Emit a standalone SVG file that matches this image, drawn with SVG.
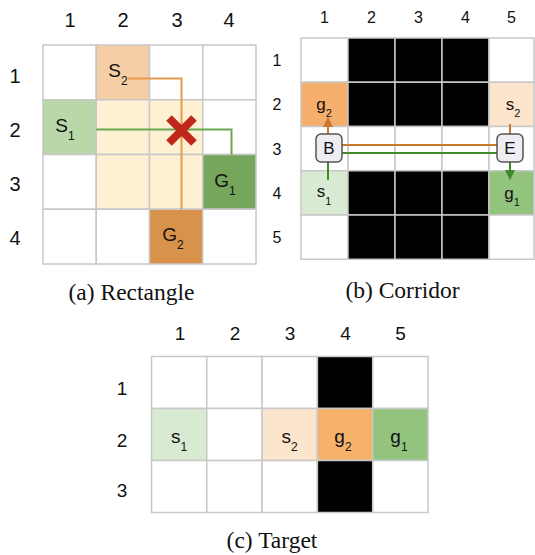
<svg xmlns="http://www.w3.org/2000/svg" width="535" height="555" viewBox="0 0 535 555">
<style>
.cell{stroke:#c8c8c8;stroke-width:1.5}
.lbl{font-family:"Liberation Sans",Arial,sans-serif;fill:#111;text-anchor:middle}
.cap{font-family:"Liberation Serif","Times New Roman",serif;font-size:23.5px;fill:#111;text-anchor:middle}
.w{fill:#ffffff}
.k{fill:#000000}
.box{fill:#eceef1;stroke:#555;stroke-width:1.5}
</style>
<defs>
<marker id="ao" viewBox="0 0 10 10" refX="9" refY="5" markerWidth="5" markerHeight="5" orient="auto" markerUnits="strokeWidth"><path d="M0,0 L10,5 L0,10 z" fill="#c7772e"/></marker>
<marker id="ag" viewBox="0 0 10 10" refX="9" refY="5" markerWidth="5" markerHeight="5" orient="auto" markerUnits="strokeWidth"><path d="M0,0 L10,5 L0,10 z" fill="#3f8a2a"/></marker>
</defs>
<rect width="535" height="555" fill="#ffffff"/>

<!-- Panel (a) -->
<g id="panel-a">
<g id="a-cells">
<rect class="cell w" x="43" y="45" width="53.25" height="54.75"/>
<rect class="cell" fill="#f5cea5" x="96.25" y="45" width="53.25" height="54.75"/>
<rect class="cell w" x="149.5" y="45" width="53.25" height="54.75"/>
<rect class="cell w" x="202.75" y="45" width="53.25" height="54.75"/>
<rect class="cell" fill="#b9d7a9" x="43" y="99.75" width="53.25" height="54.75"/>
<rect class="cell" fill="#fdf0d3" x="96.25" y="99.75" width="53.25" height="54.75"/>
<rect class="cell" fill="#fdf0d3" x="149.5" y="99.75" width="53.25" height="54.75"/>
<rect class="cell w" x="202.75" y="99.75" width="53.25" height="54.75"/>
<rect class="cell w" x="43" y="154.5" width="53.25" height="54.75"/>
<rect class="cell" fill="#fdf0d3" x="96.25" y="154.5" width="53.25" height="54.75"/>
<rect class="cell" fill="#fdf0d3" x="149.5" y="154.5" width="53.25" height="54.75"/>
<rect class="cell" fill="#76a65b" x="202.75" y="154.5" width="53.25" height="54.75"/>
<rect class="cell w" x="43" y="209.25" width="53.25" height="54.75"/>
<rect class="cell w" x="96.25" y="209.25" width="53.25" height="54.75"/>
<rect class="cell" fill="#d9924b" x="149.5" y="209.25" width="53.25" height="54.75"/>
<rect class="cell w" x="202.75" y="209.25" width="53.25" height="54.75"/>
</g>
<g id="a-axis" class="lbl" font-size="20">
<text x="70" y="27">1</text><text x="123" y="27">2</text><text x="177" y="27">3</text><text x="229" y="27">4</text>
<text x="15" y="83">1</text><text x="15" y="137">2</text><text x="15" y="191">3</text><text x="15" y="245">4</text>
</g>
<g id="a-connectors" fill="none" stroke-width="2">
<polyline points="128,78.5 181.5,78.5 181.5,209.25" stroke="#e69a4a"/>
<polyline points="96.25,129.5 231.5,129.5 231.5,154.5" stroke="#6aa84f"/>
</g>
<g id="a-cross" stroke="#c0281c" stroke-width="8">
<line x1="169" y1="118" x2="194" y2="143"/>
<line x1="194" y1="118" x2="169" y2="143"/>
</g>
<g id="a-S2"><text class="lbl" font-size="19" x="118" y="77">S<tspan font-size="12" dy="8">2</tspan></text></g>
<g id="a-S1"><text class="lbl" font-size="19" x="65" y="132">S<tspan font-size="12" dy="8">1</tspan></text></g>
<g id="a-G1"><text class="lbl" font-size="19" x="225" y="187">G<tspan font-size="12" dy="8">1</tspan></text></g>
<g id="a-G2"><text class="lbl" font-size="19" x="173" y="241">G<tspan font-size="12" dy="8">2</tspan></text></g>
<text class="cap" x="131.5" y="300">(a) Rectangle</text>
</g>

<!-- Panel (b) -->
<g id="panel-b">
<g id="b-cells">
<rect class="cell w" x="301" y="38" width="47" height="44.25"/>
<rect class="cell k" x="348" y="38" width="47" height="44.25"/>
<rect class="cell k" x="395" y="38" width="47" height="44.25"/>
<rect class="cell k" x="442" y="38" width="47" height="44.25"/>
<rect class="cell w" x="489" y="38" width="45" height="44.25"/>
<rect class="cell" fill="#f5ae6b" x="301" y="82.25" width="47" height="44.25"/>
<rect class="cell k" x="348" y="82.25" width="47" height="44.25"/>
<rect class="cell k" x="395" y="82.25" width="47" height="44.25"/>
<rect class="cell k" x="442" y="82.25" width="47" height="44.25"/>
<rect class="cell" fill="#fde5cd" x="489" y="82.25" width="45" height="44.25"/>
<rect class="cell w" x="301" y="126.5" width="47" height="44.25"/>
<rect class="cell w" x="348" y="126.5" width="47" height="44.25"/>
<rect class="cell w" x="395" y="126.5" width="47" height="44.25"/>
<rect class="cell w" x="442" y="126.5" width="47" height="44.25"/>
<rect class="cell w" x="489" y="126.5" width="45" height="44.25"/>
<rect class="cell" fill="#d9ead3" x="301" y="170.75" width="47" height="44.25"/>
<rect class="cell k" x="348" y="170.75" width="47" height="44.25"/>
<rect class="cell k" x="395" y="170.75" width="47" height="44.25"/>
<rect class="cell k" x="442" y="170.75" width="47" height="44.25"/>
<rect class="cell" fill="#93c47d" x="489" y="170.75" width="45" height="44.25"/>
<rect class="cell w" x="301" y="215" width="47" height="44.25"/>
<rect class="cell k" x="348" y="215" width="47" height="44.25"/>
<rect class="cell k" x="395" y="215" width="47" height="44.25"/>
<rect class="cell k" x="442" y="215" width="47" height="44.25"/>
<rect class="cell w" x="489" y="215" width="45" height="44.25"/>
</g>
<g id="b-axis" class="lbl" font-size="16">
<text x="324.5" y="23">1</text><text x="371.5" y="23">2</text><text x="418.5" y="23">3</text><text x="465.5" y="23">4</text><text x="511.5" y="23">5</text>
<text x="277" y="66">1</text><text x="277" y="110">2</text><text x="277" y="155">3</text><text x="277" y="199">4</text><text x="277" y="243">5</text>
</g>
<g id="b-connectors" fill="none" stroke-width="2">
<line x1="342" y1="145" x2="497" y2="145" stroke="#c7772e"/>
<line x1="342" y1="153" x2="497" y2="153" stroke="#3f8a2a"/>
<line x1="328" y1="134" x2="328" y2="118" stroke="#c7772e" marker-end="url(#ao)"/>
<line x1="328" y1="180" x2="328" y2="162" stroke="#3f8a2a"/>
<line x1="510" y1="124" x2="510" y2="134" stroke="#c7772e"/>
<line x1="510" y1="162" x2="510" y2="179" stroke="#3f8a2a" marker-end="url(#ag)"/>
</g>
<g id="b-g2"><text class="lbl" font-size="17" x="324" y="110">g<tspan font-size="11" dy="7">2</tspan></text></g>
<g id="b-s2"><text class="lbl" font-size="17" x="513" y="110">s<tspan font-size="11" dy="7">2</tspan></text></g>
<g id="b-s1"><text class="lbl" font-size="17" x="324" y="197">s<tspan font-size="11" dy="8">1</tspan></text></g>
<g id="b-g1"><text class="lbl" font-size="17" x="512" y="199">g<tspan font-size="11" dy="7">1</tspan></text></g>
<g id="b-B"><rect class="box" x="316" y="134" width="26" height="28" rx="5"/><text class="lbl" font-size="17" x="329" y="154">B</text></g>
<g id="b-E"><rect class="box" x="497" y="134" width="26" height="28" rx="5"/><text class="lbl" font-size="17" x="510" y="154">E</text></g>
<text class="cap" x="402.5" y="298">(b) Corridor</text>
</g>

<!-- Panel (c) -->
<g id="panel-c">
<g id="c-cells">
<rect class="cell w" x="151.5" y="356.5" width="55.3" height="52"/>
<rect class="cell w" x="206.8" y="356.5" width="55.3" height="52"/>
<rect class="cell w" x="262.1" y="356.5" width="55.3" height="52"/>
<rect class="cell k" x="317.4" y="356.5" width="55.3" height="52"/>
<rect class="cell w" x="372.7" y="356.5" width="55.3" height="52"/>
<rect class="cell" fill="#d9ead3" x="151.5" y="408.5" width="55.3" height="52"/>
<rect class="cell w" x="206.8" y="408.5" width="55.3" height="52"/>
<rect class="cell" fill="#fce5cd" x="262.1" y="408.5" width="55.3" height="52"/>
<rect class="cell" fill="#f6b26b" x="317.4" y="408.5" width="55.3" height="52"/>
<rect class="cell" fill="#93c47d" x="372.7" y="408.5" width="55.3" height="52"/>
<rect class="cell w" x="151.5" y="460.5" width="55.3" height="52"/>
<rect class="cell w" x="206.8" y="460.5" width="55.3" height="52"/>
<rect class="cell w" x="262.1" y="460.5" width="55.3" height="52"/>
<rect class="cell k" x="317.4" y="460.5" width="55.3" height="52"/>
<rect class="cell w" x="372.7" y="460.5" width="55.3" height="52"/>
</g>
<g id="c-axis" class="lbl" font-size="19">
<text x="180" y="340">1</text><text x="235" y="340">2</text><text x="290" y="340">3</text><text x="345.5" y="340">4</text><text x="400.5" y="340">5</text>
<text x="122" y="395">1</text><text x="122" y="447">2</text><text x="122" y="497">3</text>
</g>
<g id="c-s1"><text class="lbl" font-size="19" x="179" y="443">s<tspan font-size="12" dy="8">1</tspan></text></g>
<g id="c-s2"><text class="lbl" font-size="19" x="289.5" y="443">s<tspan font-size="12" dy="8">2</tspan></text></g>
<g id="c-g2"><text class="lbl" font-size="19" x="343" y="443">g<tspan font-size="12" dy="8">2</tspan></text></g>
<g id="c-g1"><text class="lbl" font-size="19" x="399" y="443">g<tspan font-size="12" dy="8">1</tspan></text></g>
<text class="cap" x="272" y="548">(c) Target</text>
</g>
</svg>
